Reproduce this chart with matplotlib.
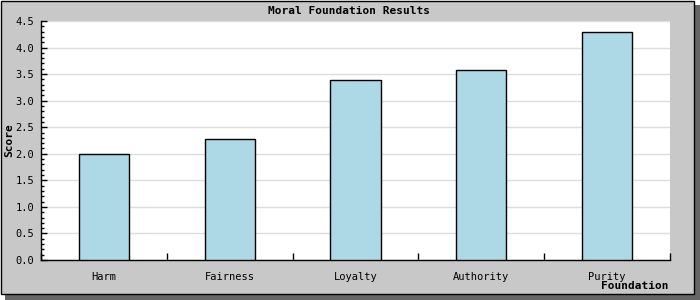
import matplotlib
matplotlib.use("Agg")
import matplotlib.pyplot as plt
from matplotlib.patches import Rectangle
from matplotlib.ticker import MultipleLocator, FixedLocator

categories = ["Harm", "Fairness", "Loyalty", "Authority", "Purity"]
scores = [2.0, 2.28, 3.38, 3.58, 4.3]
title = "Moral Foundation Results"
xlabel = "Foundation"
ylabel = "Score"

W, H = 700, 300
fig = plt.figure(figsize=(W / 100, H / 100), dpi=100)
fig.patch.set_facecolor("white")

# shadow and panel
fig.patches.append(Rectangle((5 / W, 0), 695 / W, 295 / H, transform=fig.transFigure,
                             facecolor="#666666", edgecolor="none", zorder=0))
fig.patches.append(Rectangle((0.5 / W, 6.5 / H), 693 / W, 293 / H, transform=fig.transFigure,
                             facecolor="#c8c8c8", edgecolor="black", linewidth=1.0, zorder=1))

ax = fig.add_axes([41 / W, (H - 260) / H, (670 - 41) / W, (260 - 21) / H])
ax.set_facecolor("white")
ax.set_zorder(2)

x = list(range(len(categories)))
ax.bar(x, scores, width=0.4, color="#add8e6", edgecolor="black", linewidth=1.0, zorder=3)

ax.set_xlim(-0.5, len(categories) - 0.5)
ax.set_ylim(0, 4.5)

ax.yaxis.set_major_locator(MultipleLocator(0.5))
ax.yaxis.set_minor_locator(MultipleLocator(0.1))
ax.grid(axis="y", which="major", color="#dddddd", linewidth=1.0, zorder=1)
ax.set_axisbelow(True)

mono = "DejaVu Sans Mono"
ax.set_yticklabels([]) if False else None
ax.tick_params(axis="y", which="major", direction="in", length=4, width=1, color="black",
               labelsize=7.5, pad=5)
ax.tick_params(axis="y", which="minor", direction="in", length=2, width=1, color="black")
for lab in ax.get_yticklabels():
    lab.set_family(mono)
ax.yaxis.set_major_formatter(matplotlib.ticker.FormatStrFormatter("%.1f"))

# x ticks at category boundaries, labels at centers
ax.xaxis.set_major_locator(FixedLocator([i - 0.5 for i in range(len(categories) + 1)]))
ax.xaxis.set_major_formatter(matplotlib.ticker.NullFormatter())
ax.xaxis.set_minor_locator(FixedLocator(x))
ax.xaxis.set_minor_formatter(matplotlib.ticker.FixedFormatter(categories))
ax.tick_params(axis="x", which="major", direction="in", length=5, width=1, color="black")
ax.tick_params(axis="x", which="minor", length=0, labelsize=7.5, pad=9)
for lab in ax.get_xticklabels(minor=True):
    lab.set_family(mono)

for s in ["top", "right"]:
    ax.spines[s].set_visible(False)
for s in ["left", "bottom"]:
    ax.spines[s].set_color("black")
    ax.spines[s].set_linewidth(1.0)

for lab in ax.get_yticklabels():
    lab.set_family(mono)

fig.text(349 / W, (H - 11) / H, title, ha="center", va="center", family=mono,
         fontweight="bold", fontsize=8, zorder=5)
fig.text(9 / W, (H - 140) / H, ylabel, ha="center", va="center", rotation=90,
         family=mono, fontweight="bold", fontsize=8, zorder=5)
fig.text(669 / W, (H - 286) / H, xlabel, ha="right", va="center", family=mono,
         fontweight="bold", fontsize=8, zorder=5)

fig.savefig("out.png", dpi=100)
